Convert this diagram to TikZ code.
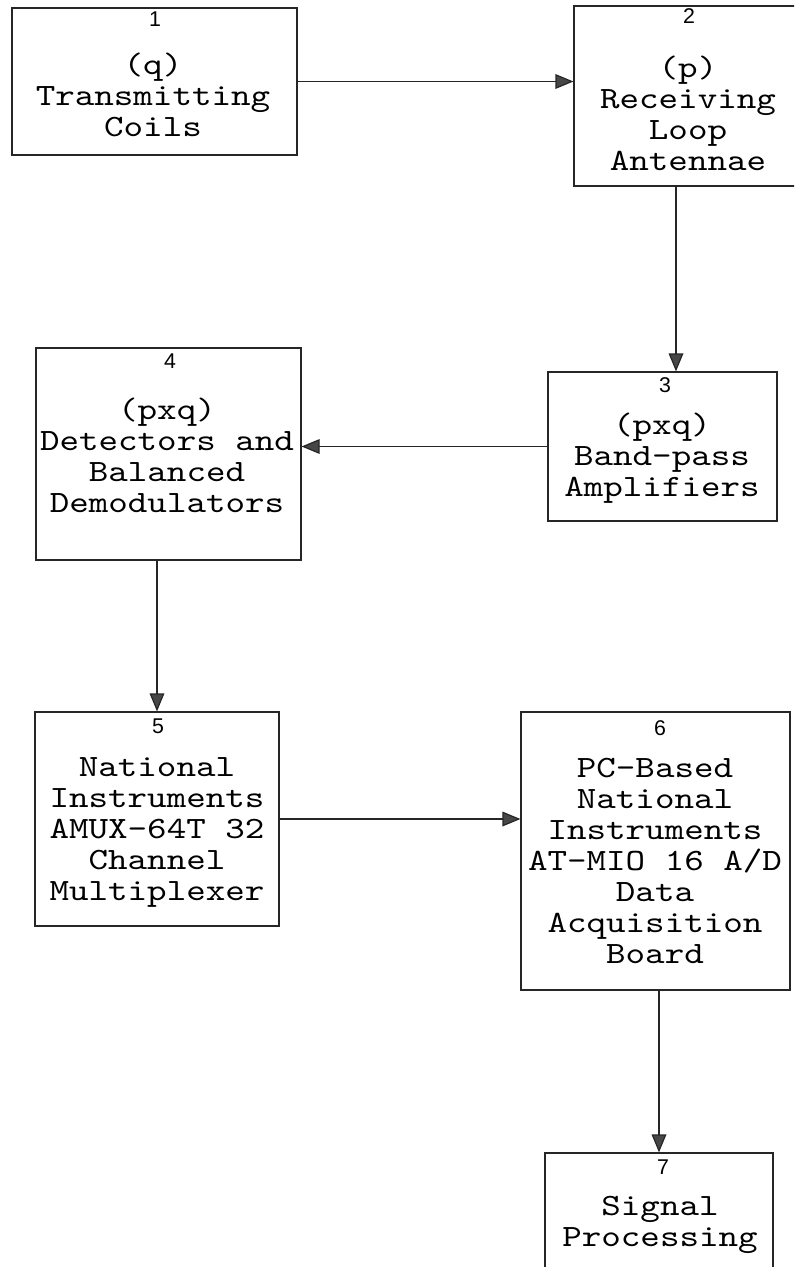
\documentclass[tikz,border=0pt]{standalone}
\usepackage{fontspec}
\setmonofont[FakeStretch=1.2]{lmmono10-regular.otf}
\newfontfamily\numfont{Liberation Sans}
\usetikzlibrary{arrows.meta,fit}
\begin{document}
\begin{tikzpicture}[x=0.75pt,y=-0.75pt,
  box/.style={draw=black!85, line width=0.9pt, inner sep=0pt},
  lbl/.style={font=\ttfamily\fontsize{23.25}{23.25}\selectfont, align=center, inner sep=0pt},
  num/.style={font=\numfont\fontsize{16}{16}\selectfont, inner sep=0pt},
  arr/.style={draw=black!85, line width=0.9pt,
    -{Triangle[length=13.5pt,width=11pt,fill=black!72,color=black!85]}}]
\useasboundingbox (0,0) rectangle (794,1267);
\clip (0,0) rectangle (794,1267);
\fill[white] (0,0) rectangle (794,1267);

% blocks
\node[box, fit={(12,8) (297,155)}]    (b1) {};
\node[box, fit={(574,6) (802,186)}]   (b2) {};
\node[box, fit={(548,372) (777,521)}] (b3) {};
\node[box, fit={(36,348) (301,560)}]  (b4) {};
\node[box, fit={(35,712) (279,926)}]  (b5) {};
\node[box, fit={(521,712) (790,990)}] (b6) {};
\node[box, fit={(545,1153) (773,1285)}] (b7) {};

% block numbers
\node[num] (n1) at (155,19)   {1};
\node[num] (n2) at (689,16)   {2};
\node[num] (n3) at (665,385)  {3};
\node[num] (n4) at (170,361)  {4};
\node[num] (n5) at (158,726)  {5};
\node[num] (n6) at (660,728)  {6};
\node[num] (n7) at (663,1167) {7};

% block texts
\node[lbl] (t1) at (153,95)    {(q)\\Transmitting\\Coils};
\node[lbl] (t2) at (688,113.5) {(p)\\Receiving\\Loop\\Antennae};
\node[lbl] (t3) at (662,458.5) {(pxq)\\Band-pass\\Amplifiers};
\node[lbl] (t4) at (167,455)   {(pxq)\\Detectors and\\Balanced\\Demodulators};
\node[lbl] (t5) at (157,832)   {National\\Instruments\\AMUX-64T 32\\Channel\\Multiplexer};
\node[lbl] (t6) at (655,861)   {PC-Based\\National\\Instruments\\AT-MIO 16 A/D\\Data\\Acquisition\\Board};
\node[lbl] (t7) at (660,1225)  {Signal\\Processing};

% signal flow
\coordinate (x23) at (676,0);
\draw[arr] (b1) -- (b1 -| b2.west);
\draw[arr] (b2.south -| x23) -- (b3.north -| x23);
\draw[arr] (b3) -- (b3 -| b4.east);
\draw[arr] (b4.south -| b5.north) -- (b5.north);
\draw[arr] (b5) -- (b5 -| b6.west);
\draw[arr] (b6.south -| b7.north) -- (b7.north);
\end{tikzpicture}
\end{document}
